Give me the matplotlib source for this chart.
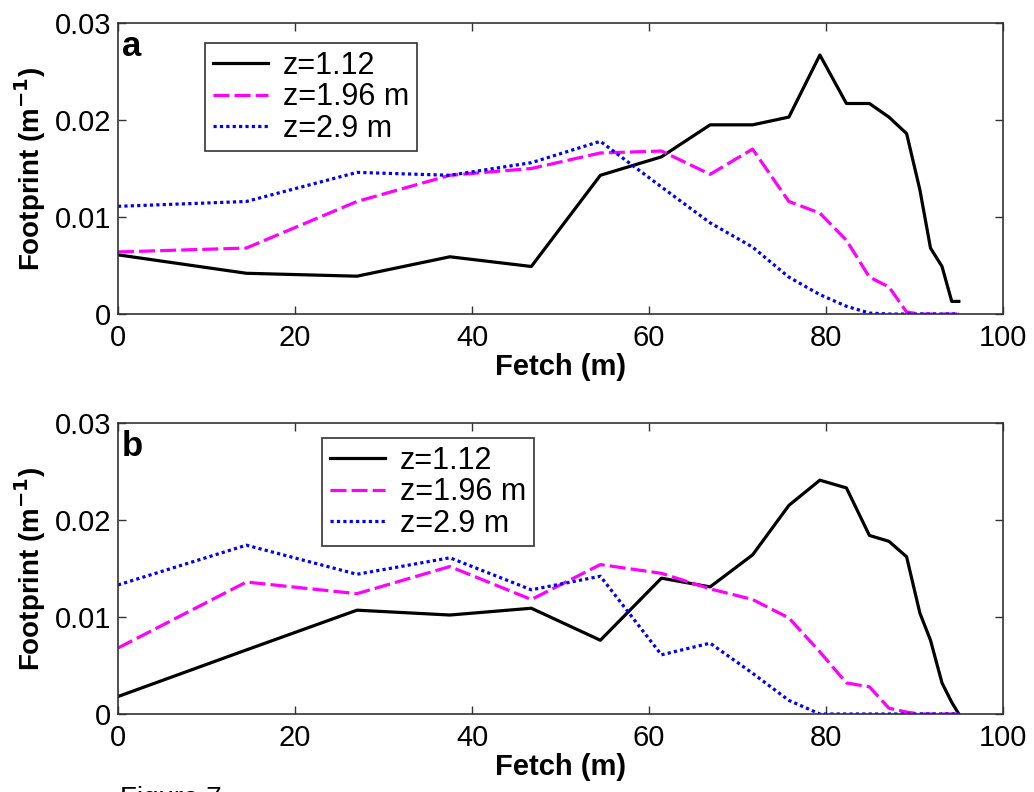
import matplotlib
matplotlib.use("Agg")
import matplotlib.pyplot as plt

plt.rcParams['font.family'] = ['Liberation Sans', 'DejaVu Sans']

fetch = [0, 14.5, 27, 37.5, 46.7, 54.5, 61.4, 66.9, 71.7, 75.8,
         79.3, 82.3, 84.9, 87.1, 89.1, 90.6, 91.8, 93.1, 94.2, 95]

# panel a
a_z112 = [0.0061, 0.0042, 0.0039, 0.0059, 0.0049, 0.0143, 0.0162, 0.0195, 0.0195, 0.0203,
          0.0267, 0.0217, 0.0217, 0.0203, 0.0186, 0.0128, 0.0068, 0.0049, 0.0013, 0.0013]
a_z196 = [0.0064, 0.0068, 0.0116, 0.0143, 0.0150, 0.0166, 0.0168, 0.0144, 0.0170, 0.0116,
          0.0104, 0.0076, 0.0038, 0.0028, 0.0002, 0.0, 0.0, 0.0, 0.0, 0.0]
a_z29 = [0.0111, 0.0116, 0.0146, 0.0143, 0.0156, 0.0178, 0.0131, 0.0094, 0.0069, 0.0038,
         0.0020, 0.0008, 0.0001, 0.0, 0.0, 0.0, 0.0, 0.0, 0.0, 0.0]

# panel b
b_z112 = [0.0018, 0.0066, 0.0107, 0.0102, 0.0109, 0.0076, 0.0140, 0.0131, 0.0164, 0.0215,
          0.0241, 0.0233, 0.0184, 0.0178, 0.0162, 0.0104, 0.0076, 0.0032, 0.0012, 0.0]
b_z196 = [0.0068, 0.0136, 0.0124, 0.0152, 0.0118, 0.0154, 0.0145, 0.0129, 0.0118, 0.0099,
          0.0064, 0.0032, 0.0028, 0.0006, 0.0002, 0.0, 0.0, 0.0, 0.0, 0.0]
b_z29 = [0.0133, 0.0174, 0.0144, 0.0161, 0.0128, 0.0142, 0.0061, 0.0073, 0.0042, 0.0014,
         0.0, 0.0, 0.0, 0.0, 0.0, 0.0, 0.0, 0.0, 0.0, 0.0]

labels = ['z=1.12', 'z=1.96 m', 'z=2.9 m']
xticks = [0, 20, 40, 60, 80, 100]
yticks = [0, 0.01, 0.02, 0.03]
yticklabels = ['0', '0.01', '0.02', '0.03']

fig = plt.figure(figsize=(10.34, 7.92), dpi=100)
ax_a = fig.add_axes([0.1141, 0.6035, 0.856, 0.3675])
ax_b = fig.add_axes([0.1141, 0.0985, 0.856, 0.3675])


def draw(ax, s1, s2, s3, tag, leg_pos):
    l1, = ax.plot(fetch, s1, color='black', lw=2.3)
    l2, = ax.plot(fetch, s2, color='#ff00ff', lw=2.3, ls=(0, (5, 1.6)))
    l3, = ax.plot(fetch, s3, color='#0000ff', lw=2.3, ls=(0, (1, 1)))
    ax.set_xlim(0, 100)
    ax.set_ylim(0, 0.03)
    ax.set_xticks(xticks)
    ax.set_yticks(yticks)
    ax.set_yticklabels(yticklabels)
    ax.tick_params(direction='in', length=6, top=True, right=True,
                   labelsize=21, color='#333333', width=1)
    ax.tick_params(axis='x', pad=7)
    ax.tick_params(axis='y', pad=5)
    for s in ax.spines.values():
        s.set_color('#333333')
        s.set_linewidth(1.2)
    ax.set_xlabel('Fetch (m)', fontsize=21, fontweight='bold', labelpad=1)
    ax.set_ylabel('Footprint (m$^{\\mathbf{-1}}$)', fontsize=20, fontweight='bold', labelpad=5)
    ax.text(0.0045, 0.887, tag, transform=ax.transAxes, fontsize=25,
            fontweight='bold', va='baseline', ha='left')
    leg = ax.legend([l1, l2, l3], labels, loc='upper left', bbox_to_anchor=leg_pos,
                    fontsize=22, frameon=True, fancybox=False, handlelength=1.8,
                    borderpad=0.25, labelspacing=0.05, handletextpad=0.5,
                    borderaxespad=0)
    leg.get_frame().set_edgecolor('black')
    leg.get_frame().set_linewidth(1.2)


draw(ax_a, a_z112, a_z196, a_z29, 'a', (0.0983, 0.931))
draw(ax_b, b_z112, b_z196, b_z29, 'b', (0.2305, 0.948))

fig.text(120 / 1034, 1 - 786 / 792, 'Figure 7', fontsize=20, va='top', ha='left')

fig.savefig('out.png', dpi=100)
